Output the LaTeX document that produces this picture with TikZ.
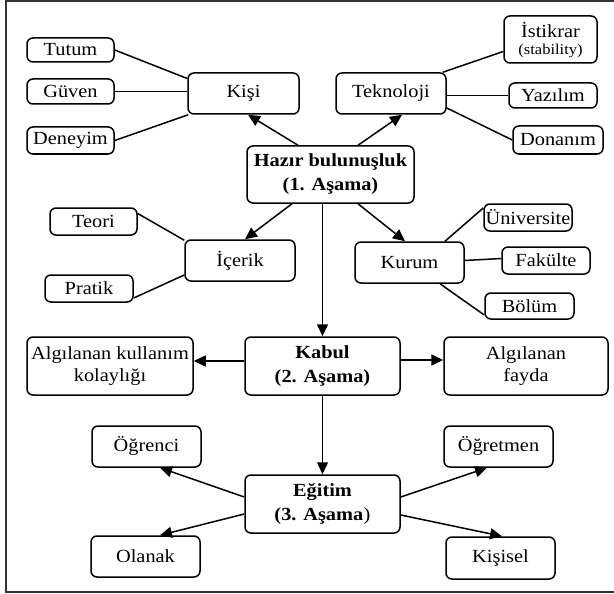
\documentclass[tikz,border=0pt]{standalone}
\usepackage{fontspec}
\setmainfont{Liberation Serif}[FakeStretch=1.1]
\usetikzlibrary{arrows.meta}
\begin{document}
\begin{tikzpicture}[x=1pt,y=-1pt,
  box/.style={draw=black, line width=1.5pt, rounded corners=6pt, inner sep=1pt,
    align=center, font=\fontsize{18.5}{22}\selectfont, text=black},
  arr/.style={line width=1.5pt, draw=black, -{Triangle[length=12pt,width=11pt]}},
  ln/.style={line width=1.5pt, draw=black}]
\useasboundingbox (0,0) rectangle (614,594);
\draw[line width=1.6pt, black!80] (6,1) rectangle (622,592);

% nodes
\node[box, minimum width=87pt, minimum height=24pt] (tutum) at (70.5,50) {Tutum};
\node[box, minimum width=87pt, minimum height=25pt] (guven) at (70.5,91.5) {Güven};
\node[box, minimum width=87pt, minimum height=27pt] (deneyim) at (70.5,140.5) {Deneyim};
\node[box, minimum width=111pt, minimum height=41pt] (kisi) at (243.5,93.5) {Kişi};
\node[box, minimum width=110pt, minimum height=41pt] (tekno) at (391,93.5) {Teknoloji};
\node[box, minimum width=93pt, minimum height=47pt, font=\fontsize{18.5}{18}\selectfont] (istikrar) at (550.5,39.5) {İstikrar\\[-1pt]{\fontsize{15}{15}\selectfont(stability)}};
\node[box, minimum width=88pt, minimum height=25pt] (yazilim) at (553,95.5) {Yazılım};
\node[box, minimum width=90pt, minimum height=28pt] (donanim) at (558,140) {Donanım};
\node[box, minimum width=167pt, minimum height=57pt, font=\fontsize{18.5}{24}\selectfont\bfseries] (hazir) at (330.5,174.5) {Hazır bulunuşluk\\(1. Aşama)};
\node[box, minimum width=87pt, minimum height=27pt] (teori) at (93.5,221.5) {Teori};
\node[box, minimum width=110pt, minimum height=41pt] (icerik) at (240,260.5) {İçerik};
\node[box, minimum width=88pt, minimum height=27pt] (pratik) at (89,288.5) {Pratik};
\node[box, minimum width=109pt, minimum height=41pt] (kurum) at (409.5,262.5) {Kurum};
\node[box, minimum width=88pt, minimum height=27pt] (univ) at (528,217.5) {Üniversite};
\node[box, minimum width=88pt, minimum height=27pt] (fakulte) at (546,260.5) {Fakülte};
\node[box, minimum width=89pt, minimum height=26pt] (bolum) at (529.5,306) {Bölüm};
\node[box, minimum width=166pt, minimum height=58pt] (aku) at (110,366) {Algılanan kullanım\\kolaylığı};
\node[box, minimum width=155pt, minimum height=58pt, font=\fontsize{18.5}{24}\selectfont\bfseries] (kabul) at (322.5,366) {Kabul\\(2. Aşama)};
\node[box, minimum width=164pt, minimum height=58pt] (fayda) at (526,366) {Algılanan\\fayda};
\node[box, minimum width=155pt, minimum height=58pt, font=\fontsize{18.5}{24}\selectfont] (egitim) at (322.5,504) {\textbf{Eğitim}\\\textbf{(3. Aşama}\hspace{0.5pt})};
\node[box, minimum width=109pt, minimum height=41pt] (ogrenci) at (146.5,446.5) {Öğrenci};
\node[box, minimum width=109pt, minimum height=41pt] (ogretmen) at (498.5,446.5) {Öğretmen};
\node[box, minimum width=109pt, minimum height=41pt] (olanak) at (145.5,556.5) {Olanak};
\node[box, minimum width=109pt, minimum height=42pt] (kisisel) at (500.5,558) {Kişisel};

% plain lines
\draw[ln] (tutum.east) -- ([yshift=15pt]kisi.west);
\draw[ln] (guven.east) -- (guven.east -| kisi.west);
\draw[ln] (deneyim.east) -- ([xshift=1pt]kisi.south west);
\draw[ln] ([xshift=-4pt]tekno.north east) -- ([yshift=-12pt]istikrar.west);
\draw[ln] (yazilim.west -| tekno.east) -- (yazilim.west);
\draw[ln] ([yshift=-14.5pt]tekno.east) -- (donanim.west);
\draw[ln] ([yshift=8pt]teori.east) -- ([yshift=-1pt]icerik.north west);
\draw[ln] ([yshift=-9.5pt]pratik.east) -- ([yshift=-14.5pt]icerik.west);
\draw[ln] ([xshift=35.5pt]kurum.north) -- ([yshift=9.5pt]univ.west);
\draw[ln] ([yshift=2pt]kurum.east) -- ([yshift=2pt]fakulte.west);
\draw[ln] ([xshift=30.5pt]kurum.south) -- ([yshift=-9pt]bolum.west);

% arrows
\draw[arr] ([xshift=-32.5pt]hazir.north) -- ([xshift=4.5pt]kisi.south);
\draw[arr] ([xshift=27.5pt]hazir.north) -- ([xshift=11pt]tekno.south);
\draw[arr] ([xshift=-38.5pt]hazir.south) -- ([xshift=5pt]icerik.north);
\draw[arr] ([xshift=27.5pt]hazir.south) -- ([xshift=-4.5pt]kurum.north);
\draw[arr] (kabul.north |- hazir.south) -- (kabul.north);
\draw[arr] ([yshift=5pt]kabul.west) -- ([yshift=5pt]aku.east);
\draw[arr] ([yshift=6pt]kabul.east) -- ([yshift=6pt]fayda.west);
\draw[arr] (kabul.south) -- (egitim.north);
\draw[arr] ([yshift=7pt]egitim.west) -- ([xshift=13.5pt]ogrenci.south);
\draw[arr] ([yshift=-10pt]egitim.west) -- ([xshift=14.5pt]olanak.north);
\draw[arr] ([yshift=7pt]egitim.east) -- ([xshift=-11.5pt]ogretmen.south);
\draw[arr] ([yshift=-11pt]egitim.east) -- ([xshift=1.5pt]kisisel.north);
\end{tikzpicture}
\end{document}
